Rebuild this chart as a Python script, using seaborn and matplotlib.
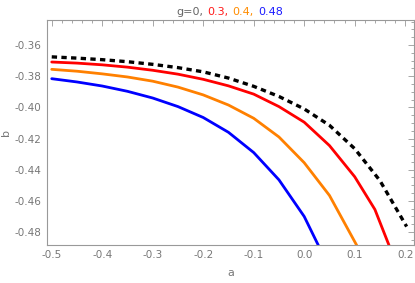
import matplotlib
matplotlib.use("Agg")
import matplotlib.pyplot as plt
import matplotlib.ticker as mticker
from matplotlib.offsetbox import TextArea, HPacker, AnchoredOffsetbox
import seaborn as sns
import pandas as pd

# values
a_g0 = [-0.50, -0.45, -0.40, -0.35, -0.30, -0.25, -0.20, -0.15, -0.10, -0.05, 0.00, 0.05, 0.10, 0.15, 0.2029]
b_g0 = [-0.3676, -0.3684, -0.3694, -0.3707, -0.3724, -0.3745, -0.3772, -0.3812, -0.3865, -0.3930,
        -0.4010, -0.4115, -0.4265, -0.4470, -0.4765]

a_g03 = [-0.50, -0.45, -0.40, -0.35, -0.30, -0.25, -0.20, -0.15, -0.10, -0.05, 0.00, 0.05, 0.10, 0.14, 0.168]
b_g03 = [-0.3709, -0.3716, -0.3727, -0.3742, -0.3762, -0.3787, -0.3820, -0.3862, -0.3915, -0.3995,
         -0.4095, -0.4245, -0.4445, -0.4655, -0.4885]

a_g04 = [-0.50, -0.45, -0.40, -0.35, -0.30, -0.25, -0.20, -0.15, -0.10, -0.05, 0.00, 0.05, 0.104]
b_g04 = [-0.3756, -0.3768, -0.3785, -0.3805, -0.3832, -0.3870, -0.3920, -0.3985, -0.4070, -0.4190,
         -0.4355, -0.4565, -0.4885]

a_g048 = [-0.50, -0.45, -0.40, -0.35, -0.30, -0.25, -0.20, -0.15, -0.10, -0.05, 0.00, 0.028]
b_g048 = [-0.3816, -0.3837, -0.3863, -0.3897, -0.3940, -0.3995, -0.4065, -0.4160, -0.4290, -0.4465,
          -0.4700, -0.4885]

g_labels = ["0", "0.3", "0.4", "0.48"]
g_colors = ["#666666", "#ff1a1a", "#ff8c00", "#1a1aff"]

df = pd.concat([
    pd.DataFrame({"a": a_g03, "b": b_g03, "g": "0.3"}),
    pd.DataFrame({"a": a_g04, "b": b_g04, "g": "0.4"}),
    pd.DataFrame({"a": a_g048, "b": b_g048, "g": "0.48"}),
])
df0 = pd.DataFrame({"a": a_g0, "b": b_g0})

sns.set_style("white")
plt.rcParams["font.family"] = ["DejaVu Sans"]
gray = "#777777"

fig = plt.figure(figsize=(4.15, 2.83), dpi=100)
ax = fig.add_axes([0.1125, 0.136, 0.885, 0.793])

sns.lineplot(data=df, x="a", y="b", hue="g",
             palette={"0.3": "#ff0000", "0.4": "#ff8000", "0.48": "#0000ff"},
             linewidth=2.0, legend=False, ax=ax)
sns.lineplot(data=df0, x="a", y="b", color="black", linewidth=2.4,
             ax=ax, legend=False)
ax.lines[-1].set_dashes([1.6, 1.3])
for ln in ax.lines:
    ln.set_solid_joinstyle("round")

ax.set_xlim(-0.51, 0.2174)
ax.set_ylim(-0.488, -0.344)
ax.xaxis.set_major_locator(mticker.MultipleLocator(0.1))
ax.xaxis.set_minor_locator(mticker.MultipleLocator(0.02))
ax.yaxis.set_major_locator(mticker.MultipleLocator(0.02))
ax.yaxis.set_minor_locator(mticker.MultipleLocator(0.005))
ax.xaxis.set_major_formatter(mticker.FormatStrFormatter("%.1f"))
ax.yaxis.set_major_formatter(mticker.FormatStrFormatter("%.2f"))
ax.tick_params(which="both", direction="in", top=True, right=True,
               color="#999999", labelcolor=gray, labelsize=7.5, width=0.6)
ax.tick_params(which="major", length=4, pad=4)
ax.tick_params(which="minor", length=2)
for s in ax.spines.values():
    s.set_color("#999999")
    s.set_linewidth(0.8)

ax.set_xlabel("a", color=gray, fontsize=8, labelpad=6)
ax.set_ylabel("b", color=gray, fontsize=8, labelpad=2)

# coloured title pieces
parts = [TextArea("g=" + g_labels[0] + ",", textprops=dict(color=g_colors[0], size=8))]
for lab, col, last in zip(g_labels[1:], g_colors[1:], [False, False, True]):
    parts.append(TextArea(lab if last else lab + ",", textprops=dict(color=col, size=8)))
box = HPacker(children=parts, align="baseline", pad=0, sep=3)
anch = AnchoredOffsetbox(loc="lower center", child=box, pad=0, frameon=False,
                         bbox_to_anchor=(0.553, 0.94), bbox_transform=fig.transFigure,
                         borderpad=0)
fig.add_artist(anch)

fig.savefig("out.png", dpi=100)
